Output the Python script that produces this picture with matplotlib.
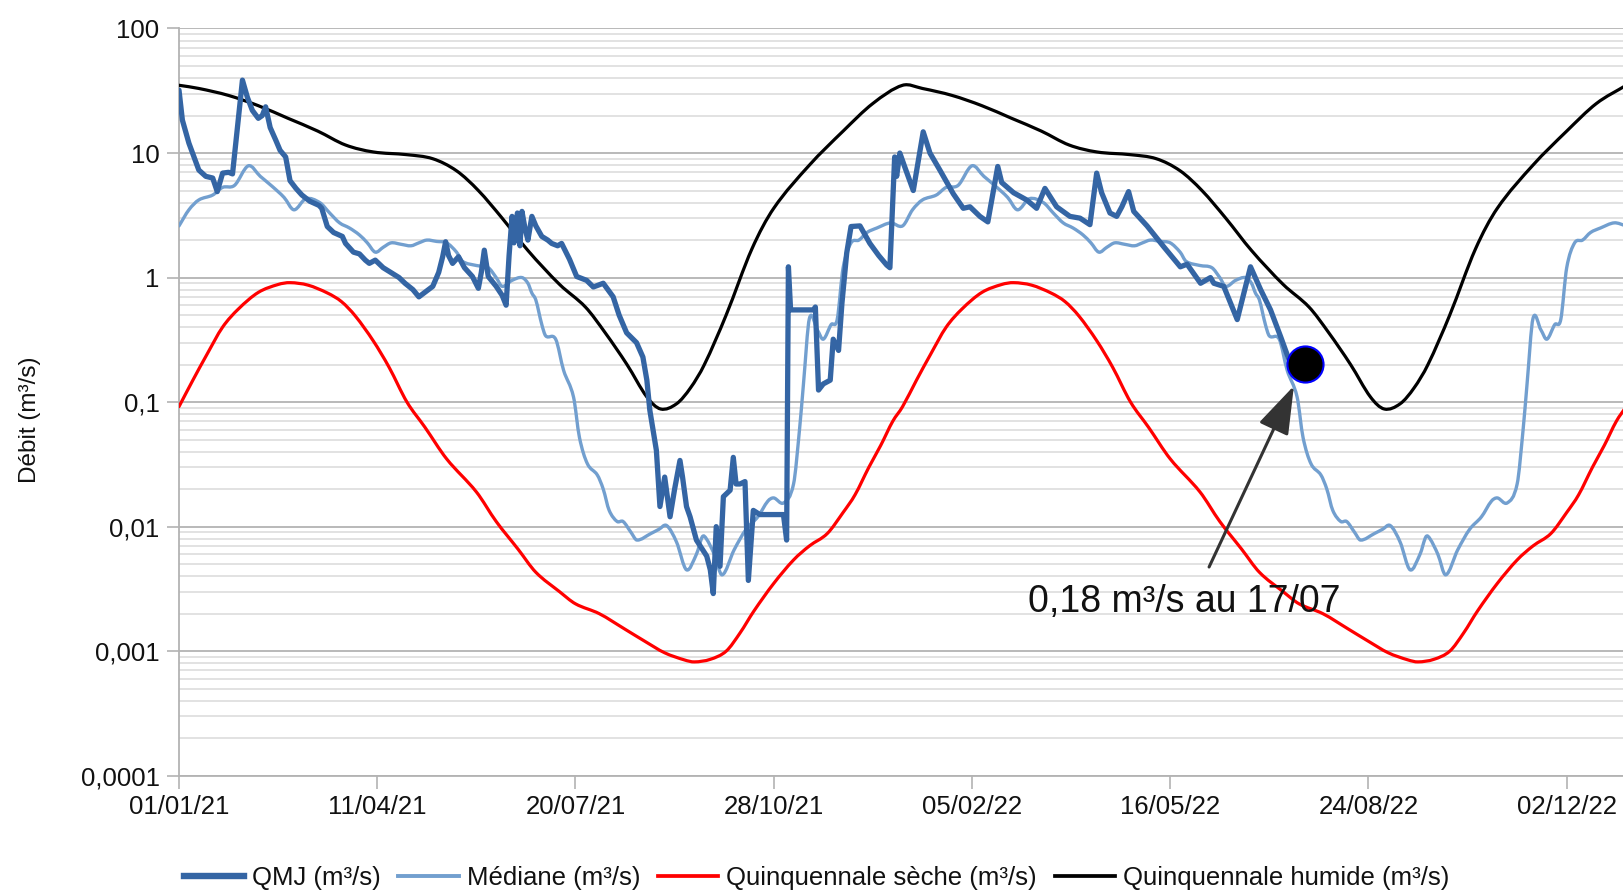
import numpy as np
import matplotlib
matplotlib.use("Agg")
import matplotlib.pyplot as plt
import matplotlib.dates as mdates
from matplotlib.transforms import ScaledTranslation
from matplotlib.path import Path
from matplotlib.patches import PathPatch
from matplotlib.lines import Line2D
from datetime import datetime

plt.rcParams['font.family'] = ['Liberation Sans', 'DejaVu Sans']

# ---------------- data ----------------
start_date = "01/01/21"
x_tick_labels = ["01/01/21", "11/04/21", "20/07/21", "28/10/21",
                 "05/02/22", "16/05/22", "24/08/22", "02/12/22"]
y_ticks = [0.0001, 0.001, 0.01, 0.1, 1, 10, 100]
y_tick_labels = ["0,0001", "0,001", "0,01", "0,1", "1", "10", "100"]

# QMJ (daily discharge), day offset from 01/01/21
qmj_day = [0, 1.7, 5, 10, 13.5, 17, 19.3, 22, 25, 27, 32, 34.5, 37, 40, 42, 43.7,
           46, 48.8, 51, 53.8, 56, 59, 62, 66, 70.6, 72, 74.8, 78, 82.4, 84, 88,
           91, 94, 96, 99, 103, 107.6, 111, 114, 118, 121, 124, 128, 131, 133,
           134.5, 136, 138, 141, 144, 148, 151, 152.5, 154, 156, 160, 163, 165,
           166.5, 168, 169, 170.7, 172, 173, 174.5, 176, 178, 180, 183, 186, 188,
           191, 193, 197, 200.6, 205.6, 209, 214, 219, 222, 225.8, 230.8, 234,
           236, 237.5, 240.8, 242.6, 245, 247.7, 250, 252.7, 254, 256, 257.8,
           261, 266.2, 268, 269.5, 271, 272.9, 274.6, 278, 279.6, 281, 283,
           285.5, 287.2, 289.7, 293, 304.9, 306.5, 307.4, 308.5, 320, 321,
           322.6, 325, 328.5, 330, 332.7, 334.4, 336.8, 339, 343.5, 348.5, 353,
           357, 358.6, 361, 362, 363.6, 366, 370.4, 375.4, 378.8, 383.8, 390.6,
           395.6, 399, 404, 408, 413, 415, 421, 427.6, 432.6, 436.8, 442.7,
           449.4, 454.5, 459.5, 462.9, 465.4, 469.6, 473, 475.6, 479, 481.6,
           488.3, 496.7, 505.1, 508.5, 515.3, 520.3, 522, 527, 533.8, 540.5,
           545.6, 550.6, 555.7, 559, 562]
qmj_val = [32, 18.4, 12, 7.3, 6.5, 6.3, 4.9, 6.9, 7.0, 6.8, 38.5, 28, 22, 19, 20, 23.5,
           16, 12.7, 10.5, 9.3, 6.0, 5.2, 4.6, 4.1, 3.8, 3.6, 2.57, 2.3, 2.14, 1.88, 1.6,
           1.55, 1.38, 1.3, 1.38, 1.2, 1.08, 1.0, 0.90, 0.8, 0.70, 0.76, 0.85, 1.1, 1.47,
           1.94, 1.5, 1.3, 1.47, 1.2, 1.02, 0.82, 1.1, 1.66, 1.02, 0.85, 0.72, 0.6,
           1.5, 3.1, 1.9, 3.3, 1.8, 3.4, 2.5, 2.0, 3.1, 2.6, 2.14, 2.0, 1.88,
           1.8, 1.88, 1.4, 1.02, 0.95, 0.84, 0.9, 0.70, 0.5, 0.36, 0.30, 0.23,
           0.15, 0.086, 0.041, 0.0145, 0.025, 0.012, 0.02, 0.034, 0.025, 0.0145, 0.012,
           0.0078, 0.0058, 0.0045, 0.0029, 0.010, 0.0048, 0.0174, 0.0196, 0.036, 0.022, 0.022,
           0.023, 0.0037, 0.0135, 0.0125, 0.0125, 0.0078, 1.22, 0.55, 0.55, 0.58,
           0.125, 0.14, 0.15, 0.32, 0.26, 0.62, 1.57, 2.57, 2.6, 1.88, 1.5,
           1.26, 1.2, 9.3, 6.5, 10, 7.8, 5.0, 14.8, 10, 7.3, 4.7,
           3.6, 3.7, 3.1, 2.8, 7.8, 5.8, 4.8, 4.2, 3.6, 5.2, 3.7,
           3.1, 3.0, 2.66, 6.9, 4.8, 3.3, 3.1, 3.7, 4.9, 3.4,
           2.6, 1.77, 1.22, 1.28, 0.90, 1.0, 0.9, 0.85, 0.46, 1.22,
           0.8, 0.55, 0.335, 0.24, 0.18]

# Median (interannual daily statistic), by day of year
med_doy = [0, 5, 10, 17, 22, 28, 35, 41, 47, 53, 58, 64, 71, 76, 81, 86, 91, 95, 99,
           103, 107, 112, 117, 121, 125, 130, 135, 140, 143, 150, 156, 160, 163, 168,
           173, 176, 178, 180, 183, 185, 190, 194, 199, 202, 206, 211, 214, 217, 221,
           224, 228, 231, 238, 242, 246, 251, 256, 261, 264, 266, 270, 274, 280, 286,
           292, 297, 300, 305, 310, 313, 315, 318, 322, 325, 329, 332, 335, 339, 343,
           347, 352, 359, 365]
med_val = [2.6, 3.5, 4.2, 4.6, 5.3, 5.5, 7.9, 6.5, 5.4, 4.4, 3.5, 4.3, 4.0, 3.3, 2.75,
           2.5, 2.2, 1.9, 1.6, 1.75, 1.9, 1.85, 1.8, 1.9, 2.0, 1.95, 1.9, 1.6, 1.35, 1.25,
           1.2, 1.0, 0.85, 0.95, 1.0, 0.9, 0.75, 0.66, 0.42, 0.34, 0.32, 0.18, 0.11,
           0.052, 0.032, 0.026, 0.02, 0.0135, 0.011, 0.011, 0.009, 0.0078, 0.0088,
           0.0095, 0.0102, 0.0075, 0.0045, 0.006, 0.0083, 0.008, 0.006, 0.0041, 0.0065,
           0.0095, 0.012, 0.016, 0.017, 0.0155, 0.022, 0.06, 0.14, 0.47, 0.38, 0.32,
           0.42, 0.46, 1.2, 1.9, 2.0, 2.3, 2.5, 2.75, 2.6]

# Dry 5-year return discharge, by day of year
seche_doy = [0, 7, 14, 22, 30, 40, 50, 56, 65, 75, 82, 89, 98, 106, 115, 124, 135,
             150, 160, 171, 180, 192, 200, 212, 225, 235, 245, 255, 260, 268, 276,
             283, 290, 300, 310, 318, 327, 335, 341, 348, 354, 360, 365]
seche_val = [0.092, 0.15, 0.24, 0.40, 0.56, 0.76, 0.88, 0.91, 0.87, 0.75, 0.64, 0.49,
             0.31, 0.19, 0.10, 0.063, 0.035, 0.019, 0.011, 0.0066, 0.0043, 0.003,
             0.0024, 0.002, 0.0015, 0.0012, 0.00097, 0.00085, 0.00082, 0.00086,
             0.001, 0.0014, 0.0021, 0.0035, 0.0054, 0.007, 0.0088, 0.013, 0.018,
             0.03, 0.045, 0.07, 0.092]

# Wet 5-year return discharge, by day of year
humide_doy = [0, 10, 25, 40, 55, 70, 84, 98, 115, 128, 140, 151, 163, 176, 192, 205,
              215, 226, 236, 243, 251, 258, 265, 276, 289, 300, 318, 335, 350, 365]
humide_val = [35, 33, 29, 24, 19, 15, 11.6, 10.2, 9.7, 9.0, 7.2, 5.0, 3.0, 1.65, 0.88,
              0.58, 0.36, 0.2, 0.11, 0.088, 0.097, 0.13, 0.2, 0.5, 1.7, 3.6, 8, 15,
              25, 35]

years_offset = [0, 365]
labels = ["QMJ (m³/s)", "Médiane (m³/s)", "Quinquennale sèche (m³/s)",
          "Quinquennale humide (m³/s)"]
annot_text = "0,18 m³/s au 17/07"

# ---------------- helpers ----------------
t0 = mdates.date2num(datetime.strptime(start_date, "%d/%m/%y"))


def two_years(doy, val):
    doy = np.asarray(doy, float)
    val = np.asarray(val, float)
    xs, ys = [], []
    for k, off in enumerate(years_offset):
        keep = doy < 365 if k < len(years_offset) - 1 else np.ones_like(doy, bool)
        xs.append(doy[keep] + off)
        ys.append(val[keep])
    return t0 + np.concatenate(xs), np.concatenate(ys)


def smooth_path(x, y):
    """Cubic Hermite (smooth line, as in the source chart) in log-y space."""
    x = np.asarray(x, float)
    ly = np.log10(np.asarray(y, float))
    n = len(x)
    m = np.empty(n)
    m[0] = (ly[1] - ly[0]) / (x[1] - x[0])
    m[-1] = (ly[-1] - ly[-2]) / (x[-1] - x[-2])
    m[1:-1] = (ly[2:] - ly[:-2]) / (x[2:] - x[:-2])
    verts = [(x[0], ly[0])]
    codes = [Path.MOVETO]
    for i in range(n - 1):
        h = x[i + 1] - x[i]
        verts += [(x[i] + h / 3, ly[i] + m[i] * h / 3),
                  (x[i + 1] - h / 3, ly[i + 1] - m[i + 1] * h / 3),
                  (x[i + 1], ly[i + 1])]
        codes += [Path.CURVE4] * 3
    V = np.array(verts)
    V[:, 1] = 10 ** V[:, 1]
    return Path(V, codes)


# ---------------- plotting ----------------
fig = plt.figure(figsize=(16.23, 8.96), dpi=100)
ax = fig.add_axes([179 / 1623, 1 - 775.7 / 896, 1445.2 / 1623, (775.7 - 28.5) / 896])

c_qmj, c_med, c_sec, c_hum = "#3465a4", "#729fcf", "#ff0000", "#000000"
lw_qmj, lw_med, lw_sec, lw_hum = 3.8, 2.4, 2.3, 2.3

for doy, val, col, lw, z in [(seche_doy, seche_val, c_sec, lw_sec, 3),
                             (humide_doy, humide_val, c_hum, lw_hum, 3),
                             (med_doy, med_val, c_med, lw_med, 4)]:
    xx, yy = two_years(doy, val)
    ax.add_patch(PathPatch(smooth_path(xx, yy), fill=False, edgecolor=col, lw=lw,
                           zorder=z, joinstyle="round", capstyle="round"))

xq = t0 + np.asarray(qmj_day, float)
ax.plot(xq, qmj_val, color=c_qmj, lw=lw_qmj, zorder=5,
        solid_joinstyle="round", solid_capstyle="round")

# highlighted last value
off = ScaledTranslation(0.12, 0.06, fig.dpi_scale_trans)
ax.plot([xq[-1]], [qmj_val[-1]], "o", ms=26, mfc="black", mec="#0000ff", mew=1.5,
        zorder=6, transform=ax.transData + off)

ax.set_yscale("log")
ax.set_ylim(1e-4, 100)
ax.set_xlim(t0, t0 + 729)

xticks = [mdates.date2num(datetime.strptime(s, "%d/%m/%y")) for s in x_tick_labels]
ax.set_xticks(xticks)
ax.set_xticklabels(x_tick_labels)
ax.set_yticks(y_ticks)
ax.set_yticklabels(y_tick_labels)
ax.yaxis.set_minor_locator(matplotlib.ticker.LogLocator(base=10, subs=range(2, 10), numticks=20))
ax.yaxis.set_minor_formatter(matplotlib.ticker.NullFormatter())

ax.tick_params(axis="both", which="major", labelsize=18.5, length=9, width=1.2,
               color="#b3b3b3", pad=5, labelcolor="#111111")
ax.tick_params(axis="y", which="minor", length=0)
ax.grid(which="major", axis="y", color="#b3b3b3", lw=1.3)
ax.grid(which="minor", axis="y", color="#dddddd", lw=1.2)
ax.set_axisbelow(True)
for s in ["top", "right"]:
    ax.spines[s].set_visible(False)
for s in ["left", "bottom"]:
    ax.spines[s].set_color("#b3b3b3")
    ax.spines[s].set_linewidth(1.3)

fig.text(30 / 1623, 0.531, "Débit (m³/s)", rotation=90, ha="center", va="center",
         fontsize=17.5, color="#111111")

# annotation arrow and text
tip = (t0 + 562.4, 0.135)
tail = (t0 + 519.6, 0.00474)
ax.annotate("", xy=tip, xytext=tail,
            arrowprops=dict(arrowstyle="-|>,head_length=3.0,head_width=1.0",
                            mutation_scale=10, lw=2.2, color="#333333",
                            shrinkA=0, shrinkB=0), zorder=7)
ax.text(t0 + 428.3, 0.00248, annot_text, fontsize=27, ha="left", va="center",
        color="#111111", zorder=7)

handles = [Line2D([], [], color=c_qmj, lw=lw_qmj + 0.8),
           Line2D([], [], color=c_med, lw=lw_med + 0.4),
           Line2D([], [], color=c_sec, lw=lw_sec + 0.4),
           Line2D([], [], color=c_hum, lw=lw_hum + 0.4)]
fig.legend(handles, labels, loc="center",
           bbox_to_anchor=(0.503, 1 - 878 / 896), ncol=4, frameon=False,
           fontsize=18.5, handlelength=2.35, handletextpad=0.3, columnspacing=0.7,
           labelcolor="#111111")

fig.savefig("out.png", dpi=100)
